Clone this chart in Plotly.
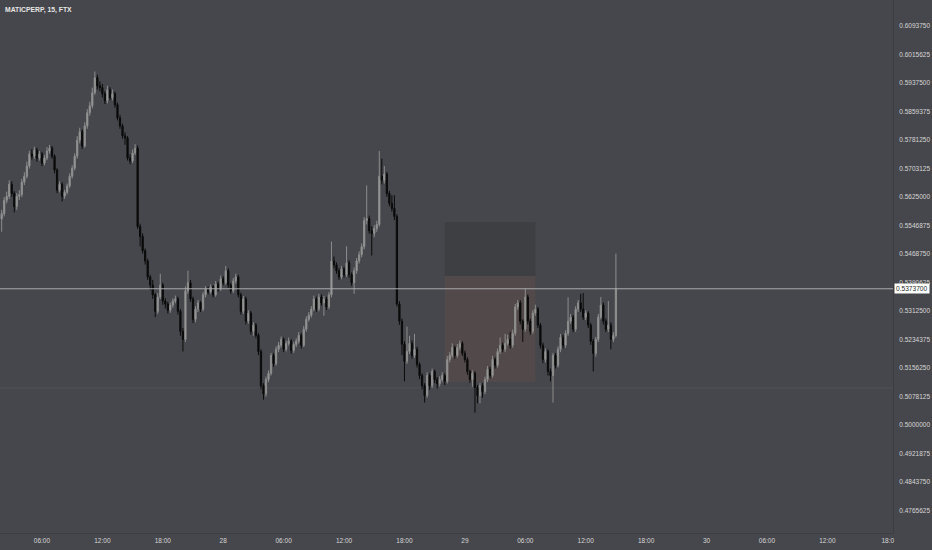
import plotly.graph_objects as go
import pandas as pd

# ---- data (MATICPERP 15m, FTX) ----
start_time = "2022-06-27 02:00"
first_open = 0.5565

closes = [
    0.5580, 0.5616, 0.5627, 0.5660, 0.5635, 0.5599, 0.5627, 0.5632, 0.5666, 0.5682,
    0.5710, 0.5743, 0.5737, 0.5754, 0.5732, 0.5743, 0.5718, 0.5732, 0.5751, 0.5759,
    0.5737, 0.5699, 0.5644, 0.5660, 0.5627, 0.5638, 0.5655, 0.5682, 0.5704, 0.5737,
    0.5781, 0.5804, 0.5765, 0.5820, 0.5856, 0.5875, 0.5911, 0.5952, 0.5930, 0.5925,
    0.5908, 0.5889, 0.5919, 0.5897, 0.5908, 0.5878, 0.5842, 0.5820, 0.5793, 0.5787,
    0.5732, 0.5724, 0.5746, 0.5759, 0.5544, 0.5517, 0.5478, 0.5450, 0.5406, 0.5384,
    0.5357, 0.5312, 0.5351, 0.5384, 0.5340, 0.5332, 0.5315, 0.5329, 0.5340, 0.5346,
    0.5312, 0.5257, 0.5235, 0.5368, 0.5390, 0.5346, 0.5290, 0.5318, 0.5335, 0.5318,
    0.5357, 0.5373, 0.5365, 0.5379, 0.5357, 0.5387, 0.5373, 0.5401, 0.5390, 0.5423,
    0.5384, 0.5368, 0.5395, 0.5406, 0.5357, 0.5312, 0.5346, 0.5285, 0.5307, 0.5257,
    0.5274, 0.5246, 0.5202, 0.5108, 0.5086, 0.5125, 0.5142, 0.5191, 0.5169, 0.5208,
    0.5219, 0.5235, 0.5208, 0.5224, 0.5230, 0.5205, 0.5221, 0.5230, 0.5246, 0.5219,
    0.5263, 0.5290, 0.5301, 0.5318, 0.5346, 0.5318, 0.5351, 0.5335, 0.5346, 0.5324,
    0.5357, 0.5450, 0.5439, 0.5423, 0.5406, 0.5428, 0.5412, 0.5445, 0.5412, 0.5390,
    0.5423, 0.5450, 0.5467, 0.5489, 0.5561, 0.5566, 0.5533, 0.5525, 0.5539, 0.5550,
    0.5682, 0.5671, 0.5688, 0.5635, 0.5608, 0.5594, 0.5572, 0.5332, 0.5285, 0.5222,
    0.5175, 0.5202, 0.5224, 0.5191, 0.5208, 0.5166, 0.5136, 0.5108, 0.5081, 0.5136,
    0.5108, 0.5147, 0.5125, 0.5114, 0.5125, 0.5136, 0.5120, 0.5180, 0.5191, 0.5213,
    0.5191, 0.5213, 0.5224, 0.5197, 0.5180, 0.5147, 0.5125, 0.5142, 0.5103, 0.5081,
    0.5108, 0.5092, 0.5125, 0.5153, 0.5136, 0.5180, 0.5164, 0.5202, 0.5219, 0.5208,
    0.5224, 0.5235, 0.5219, 0.5252, 0.5324, 0.5335, 0.5285, 0.5263, 0.5351, 0.5285,
    0.5257, 0.5307, 0.5318, 0.5274, 0.5219, 0.5180, 0.5202, 0.5147, 0.5136, 0.5191,
    0.5164, 0.5208, 0.5241, 0.5219, 0.5252, 0.5285, 0.5296, 0.5263, 0.5318, 0.5335,
    0.5318, 0.5296, 0.5307, 0.5274, 0.5230, 0.5197, 0.5235, 0.5296, 0.5329, 0.5285,
    0.5263, 0.5274, 0.5235, 0.5246, 0.5374,
]

highs = [
    0.5590, 0.5625, 0.5640, 0.5671, 0.5668, 0.5641, 0.5636, 0.5644, 0.5675, 0.5693,
    0.5722, 0.5752, 0.5756, 0.5763, 0.5760, 0.5751, 0.5749, 0.5740, 0.5762, 0.5768,
    0.5765, 0.5742, 0.5704, 0.5668, 0.5666, 0.5645, 0.5662, 0.5690, 0.5712, 0.5745,
    0.5792, 0.5815, 0.5810, 0.5830, 0.5866, 0.5886, 0.5925, 0.5969, 0.5960, 0.5942,
    0.5935, 0.5915, 0.5930, 0.5926, 0.5920, 0.5914, 0.5884, 0.5850, 0.5826, 0.5802,
    0.5792, 0.5742, 0.5755, 0.5770, 0.5766, 0.5552, 0.5525, 0.5484, 0.5456, 0.5412,
    0.5398, 0.5362, 0.5362, 0.5415, 0.5390, 0.5348, 0.5338, 0.5336, 0.5347, 0.5355,
    0.5352, 0.5318, 0.5266, 0.5380, 0.5423, 0.5398, 0.5352, 0.5326, 0.5343, 0.5340,
    0.5365, 0.5381, 0.5380, 0.5386, 0.5384, 0.5395, 0.5393, 0.5410, 0.5408, 0.5436,
    0.5430, 0.5390, 0.5403, 0.5415, 0.5412, 0.5363, 0.5354, 0.5352, 0.5315, 0.5313,
    0.5282, 0.5280, 0.5252, 0.5208, 0.5115, 0.5133, 0.5150, 0.5198, 0.5197, 0.5216,
    0.5228, 0.5243, 0.5240, 0.5232, 0.5240, 0.5236, 0.5228, 0.5238, 0.5255, 0.5252,
    0.5272, 0.5298, 0.5310, 0.5326, 0.5355, 0.5352, 0.5360, 0.5358, 0.5354, 0.5352,
    0.5365, 0.5503, 0.5462, 0.5446, 0.5430, 0.5436, 0.5434, 0.5490, 0.5452, 0.5418,
    0.5432, 0.5458, 0.5476, 0.5498, 0.5570, 0.5657, 0.5574, 0.5545, 0.5548, 0.5560,
    0.5751, 0.5730, 0.5710, 0.5694, 0.5642, 0.5630, 0.5630, 0.5578, 0.5340, 0.5292,
    0.5230, 0.5270, 0.5245, 0.5232, 0.5250, 0.5215, 0.5172, 0.5142, 0.5115, 0.5145,
    0.5142, 0.5155, 0.5152, 0.5132, 0.5134, 0.5145, 0.5142, 0.5190, 0.5200, 0.5224,
    0.5218, 0.5222, 0.5232, 0.5230, 0.5204, 0.5186, 0.5152, 0.5150, 0.5148, 0.5110,
    0.5116, 0.5115, 0.5133, 0.5162, 0.5160, 0.5190, 0.5186, 0.5210, 0.5240, 0.5226,
    0.5250, 0.5248, 0.5255, 0.5262, 0.5332, 0.5343, 0.5342, 0.5290, 0.5375, 0.5358,
    0.5292, 0.5315, 0.5330, 0.5324, 0.5280, 0.5226, 0.5210, 0.5208, 0.5155, 0.5198,
    0.5198, 0.5216, 0.5250, 0.5248, 0.5260, 0.5350, 0.5305, 0.5302, 0.5326, 0.5343,
    0.5360, 0.5362, 0.5315, 0.5312, 0.5280, 0.5236, 0.5242, 0.5305, 0.5351, 0.5336,
    0.5292, 0.5340, 0.5282, 0.5255, 0.5470,
]

lows = [
    0.5530, 0.5572, 0.5608, 0.5620, 0.5626, 0.5583, 0.5590, 0.5617, 0.5625, 0.5658,
    0.5676, 0.5703, 0.5728, 0.5730, 0.5722, 0.5725, 0.5710, 0.5712, 0.5726, 0.5744,
    0.5730, 0.5690, 0.5636, 0.5638, 0.5613, 0.5620, 0.5632, 0.5650, 0.5676, 0.5698,
    0.5730, 0.5772, 0.5757, 0.5760, 0.5812, 0.5848, 0.5868, 0.5905, 0.5920, 0.5915,
    0.5898, 0.5880, 0.5882, 0.5890, 0.5890, 0.5870, 0.5835, 0.5812, 0.5785, 0.5768,
    0.5725, 0.5715, 0.5718, 0.5740, 0.5538, 0.5490, 0.5470, 0.5440, 0.5398, 0.5370,
    0.5346, 0.5296, 0.5305, 0.5345, 0.5330, 0.5320, 0.5306, 0.5308, 0.5322, 0.5334,
    0.5303, 0.5245, 0.5202, 0.5228, 0.5360, 0.5338, 0.5280, 0.5282, 0.5310, 0.5310,
    0.5312, 0.5350, 0.5358, 0.5360, 0.5350, 0.5352, 0.5366, 0.5368, 0.5383, 0.5385,
    0.5376, 0.5360, 0.5362, 0.5388, 0.5350, 0.5303, 0.5305, 0.5276, 0.5278, 0.5248,
    0.5245, 0.5238, 0.5192, 0.5098, 0.5070, 0.5078, 0.5118, 0.5136, 0.5160, 0.5163,
    0.5200, 0.5212, 0.5200, 0.5202, 0.5218, 0.5196, 0.5198, 0.5214, 0.5224, 0.5210,
    0.5214, 0.5256, 0.5284, 0.5295, 0.5312, 0.5310, 0.5312, 0.5328, 0.5300, 0.5316,
    0.5318, 0.5350, 0.5430, 0.5415, 0.5398, 0.5400, 0.5404, 0.5406, 0.5404, 0.5382,
    0.5360, 0.5415, 0.5443, 0.5460, 0.5482, 0.5550, 0.5525, 0.5465, 0.5515, 0.5530,
    0.5544, 0.5660, 0.5662, 0.5626, 0.5600, 0.5585, 0.5562, 0.5325, 0.5275, 0.5192,
    0.5120, 0.5168, 0.5195, 0.5182, 0.5184, 0.5158, 0.5126, 0.5098, 0.5062, 0.5075,
    0.5097, 0.5102, 0.5115, 0.5100, 0.5106, 0.5118, 0.5110, 0.5114, 0.5172, 0.5185,
    0.5182, 0.5185, 0.5205, 0.5190, 0.5172, 0.5138, 0.5116, 0.5105, 0.5034, 0.5060,
    0.5060, 0.5075, 0.5085, 0.5118, 0.5128, 0.5130, 0.5155, 0.5158, 0.5195, 0.5200,
    0.5200, 0.5218, 0.5210, 0.5212, 0.5245, 0.5316, 0.5276, 0.5228, 0.5256, 0.5276,
    0.5248, 0.5250, 0.5300, 0.5266, 0.5210, 0.5170, 0.5172, 0.5136, 0.5120, 0.5062,
    0.5155, 0.5158, 0.5200, 0.5210, 0.5212, 0.5245, 0.5278, 0.5255, 0.5256, 0.5310,
    0.5310, 0.5288, 0.5288, 0.5266, 0.5220, 0.5147, 0.5188, 0.5228, 0.5290, 0.5276,
    0.5255, 0.5255, 0.5208, 0.5228, 0.5240,
]

opens = [first_open] + closes[:-1]
times = pd.date_range(start_time, periods=len(closes), freq="15min")

last_price = 0.53737
last_price_label = "0.5373700"

# position tool (entry / stop / target) and horizontal level
pos_start = "2022-06-28 22:00"
pos_end = "2022-06-29 07:00"
pos_stop = 0.55567
pos_entry = 0.54087
pos_target = 0.51183
hline_level = 0.51018

y_tick_vals = [0.609375, 0.6015625, 0.59375, 0.5859375, 0.578125, 0.5703125,
               0.5625, 0.5546875, 0.546875, 0.5390625, 0.53125, 0.5234375,
               0.515625, 0.5078125, 0.5, 0.4921875, 0.484375, 0.4765625]
y_tick_text = ["0.6093750", "0.6015625", "0.5937500", "0.5859375", "0.5781250",
               "0.5703125", "0.5625000", "0.5546875", "0.5468750", "0.5390625",
               "0.5312500", "0.5234375", "0.5156250", "0.5078125", "0.5000000",
               "0.4921875", "0.4843750", "0.4765625"]

x_tick_vals = ["2022-06-27 06:00", "2022-06-27 12:00", "2022-06-27 18:00",
               "2022-06-28 00:00", "2022-06-28 06:00", "2022-06-28 12:00",
               "2022-06-28 18:00", "2022-06-29 00:00", "2022-06-29 06:00",
               "2022-06-29 12:00", "2022-06-29 18:00", "2022-06-30 00:00",
               "2022-06-30 06:00", "2022-06-30 12:00", "2022-06-30 18:00"]
x_tick_text = ["06:00", "12:00", "18:00", "28", "06:00", "12:00", "18:00", "29",
               "06:00", "12:00", "18:00", "30", "06:00", "12:00", "18:0"]

x_range = ["2022-06-27 01:50", "2022-06-30 18:31"]
y_range = [0.47045, 0.6165]

BG = "#46474c"
TXT = "#d6d6d6"
FONT = "Liberation Sans, Arial, sans-serif"

fig = go.Figure()

# position tool rectangles (below candles)
fig.add_shape(type="rect", xref="x", yref="y", x0=pos_start, x1=pos_end,
              y0=pos_entry, y1=pos_stop, fillcolor="#3e3f43", line_width=0, layer="below")
fig.add_shape(type="rect", xref="x", yref="y", x0=pos_start, x1=pos_end,
              y0=pos_target, y1=pos_entry, fillcolor="#52494a", line_width=0, layer="below")
# faint horizontal level
fig.add_shape(type="line", xref="paper", yref="y", x0=0, x1=1,
              y0=hline_level, y1=hline_level, line=dict(color="#4f5257", width=1), layer="below")

fig.add_trace(go.Candlestick(
    x=times, open=opens, high=highs, low=lows, close=closes,
    increasing=dict(line=dict(color="#8d8d8d", width=1), fillcolor="#a8a8a8"),
    decreasing=dict(line=dict(color="#0b0b0b", width=1), fillcolor="#0b0b0b"),
    whiskerwidth=0, hoverinfo="skip", showlegend=False,
))

# last-price line
fig.add_shape(type="line", xref="paper", yref="y", x0=0, x1=1,
              y0=last_price, y1=last_price, line=dict(color="#a9aaad", width=1))

fig.add_annotation(xref="paper", yref="y", x=1, y=last_price, xanchor="left",
                   yanchor="middle", text=last_price_label, showarrow=False,
                   bgcolor="#ffffff", font=dict(color="#1e1f24", size=6.6, family=FONT),
                   borderpad=1, xshift=1)

fig.add_annotation(xref="paper", yref="paper", x=0, y=1, xanchor="left", yanchor="top",
                   text="<b>MATICPERP, 15, FTX</b>", showarrow=False, xshift=3, yshift=-4,
                   font=dict(color="#e6e6e6", size=6.8, family=FONT))

fig.update_layout(
    width=932, height=550,
    margin=dict(l=0, r=39, t=0, b=17, autoexpand=False),
    paper_bgcolor=BG, plot_bgcolor=BG,
    showlegend=False,
    xaxis=dict(type="date", range=x_range, rangeslider=dict(visible=False),
               tickmode="array", tickvals=x_tick_vals, ticktext=x_tick_text,
               showgrid=False, zeroline=False, showline=True, linecolor="#3c3d41",
               linewidth=1, ticks="", tickfont=dict(color=TXT, size=6.5, family=FONT),
               ticklabelstandoff=1, automargin=False),
    yaxis=dict(side="right", range=y_range, tickmode="array", tickvals=y_tick_vals,
               ticktext=y_tick_text, showgrid=False, zeroline=False, showline=True,
               linecolor="#3c3d41", linewidth=1, ticks="",
               tickfont=dict(color=TXT, size=6.5, family=FONT), ticklabelstandoff=4,
               automargin=False),
)

html = fig.to_html(full_html=True, config={"displayModeBar": False})
html = html.replace("<head>", "<head><style>html,body{margin:0;padding:0;overflow:hidden;background:%s;}</style>" % BG, 1)
with open("out.html", "w", encoding="utf-8") as f:
    f.write(html)
